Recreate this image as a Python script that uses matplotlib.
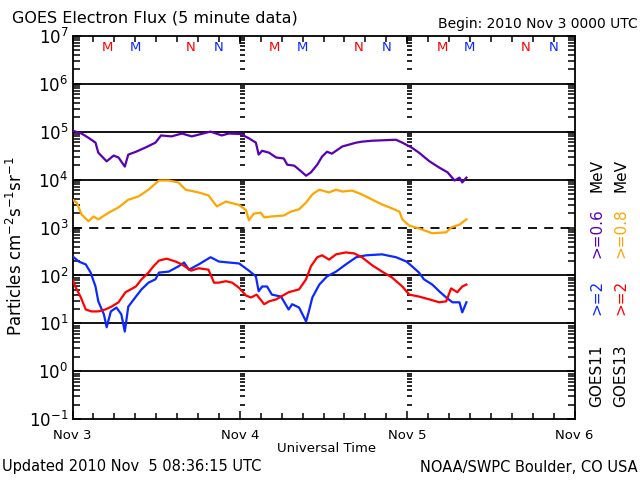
import matplotlib
matplotlib.use("Agg")
import matplotlib.pyplot as plt
import numpy as np

# ---- data (hours since 2010 Nov 3 00:00 UT, log10 flux) ----
purple_t = [0, 1.3, 2.3, 3.3, 3.7, 4.9, 5.9, 6.6, 7.5, 8.0, 9.1, 10.5, 11.9, 12.7, 14.2, 15.7, 17.1, 19.8,
            21.4, 22.4, 24.1, 25.3, 26.3, 26.7, 27.2, 28.2, 29.2, 30.3, 30.8, 31.8, 32.8, 33.5, 34.2, 35.1,
            35.8, 36.5, 37.2, 37.8, 38.7, 39.7, 40.7, 41.5, 43.0, 46.4, 47.3, 48.6, 49.7, 51.2, 52.6, 53.8,
            54.8, 55.5, 55.9, 56.5]
purple_log = [5.02, 4.96, 4.87, 4.77, 4.56, 4.38, 4.50, 4.46, 4.27, 4.52, 4.58, 4.67, 4.77, 4.92, 4.90, 4.96,
              4.90, 5.00, 4.92, 4.96, 4.95, 4.86, 4.77, 4.52, 4.60, 4.56, 4.46, 4.44, 4.31, 4.29, 4.17, 4.08,
              4.15, 4.31, 4.48, 4.58, 4.54, 4.60, 4.69, 4.73, 4.77, 4.79, 4.81, 4.83, 4.77, 4.67, 4.56, 4.38,
              4.25, 4.15, 3.98, 4.04, 3.94, 4.04]

orange_t = [0, 0.6, 1.3, 2.3, 3.0, 3.7, 5.2, 6.6, 8.0, 9.5, 10.9, 12.4, 13.8, 15.2, 16.2, 18.1, 19.5, 20.7,
            22.0, 23.9, 24.9, 25.3, 26.0, 27.0, 27.5, 28.5, 30.3, 31.3, 32.5, 33.5, 34.4, 35.4, 36.8, 37.8,
            38.7, 40.1, 41.5, 43.0, 44.4, 45.8, 46.9, 47.3, 48.3, 49.7, 51.6, 53.6, 54.3, 55.5, 56.5]
orange_log = [3.58, 3.52, 3.27, 3.13, 3.23, 3.17, 3.31, 3.42, 3.58, 3.65, 3.79, 3.98, 3.98, 3.94, 3.79, 3.73,
              3.67, 3.44, 3.54, 3.47, 3.36, 3.15, 3.29, 3.31, 3.21, 3.23, 3.25, 3.33, 3.38, 3.52, 3.69, 3.79,
              3.73, 3.79, 3.75, 3.77, 3.69, 3.58, 3.48, 3.40, 3.33, 3.17, 3.04, 2.98, 2.88, 2.90, 3.00, 3.06,
              3.17]

blue_t = [0, 0.9, 1.9, 2.6, 3.3, 3.7, 4.5, 4.9, 5.5, 6.3, 7.0, 7.5, 8.0, 9.1, 9.9, 10.9, 11.9, 12.4, 13.8,
          15.2, 16.0, 16.7, 18.1, 19.8, 21.0, 22.4, 23.9, 25.3, 26.3, 26.7, 27.2, 27.9, 28.6, 29.9, 31.0,
          31.5, 32.5, 33.5, 33.9, 34.4, 35.4, 36.5, 37.8, 39.2, 40.7, 42.1, 44.4, 46.4, 47.9, 48.7, 49.7,
          50.4, 51.6, 52.6, 53.6, 54.5, 55.5, 55.9, 56.5]
blue_log = [2.40, 2.29, 2.23, 2.06, 1.77, 1.46, 1.19, 0.92, 1.25, 1.33, 1.19, 0.83, 1.35, 1.56, 1.71, 1.85,
            1.92, 2.06, 2.08, 2.19, 2.27, 2.12, 2.23, 2.38, 2.29, 2.27, 2.25, 2.10, 1.98, 1.67, 1.77, 1.77,
            1.60, 1.56, 1.29, 1.40, 1.33, 1.04, 1.25, 1.54, 1.81, 1.98, 2.08, 2.23, 2.38, 2.42, 2.44, 2.38,
            2.29, 2.19, 2.06, 1.92, 1.81, 1.67, 1.54, 1.44, 1.44, 1.23, 1.44]

red_t = [0, 0.4, 1.2, 1.9, 2.7, 3.7, 4.7, 5.6, 6.6, 7.6, 9.1, 9.9, 10.9, 11.6, 12.4, 13.5, 14.8, 15.7, 17.0,
         18.1, 19.5, 20.3, 21.0, 22.0, 22.9, 23.9, 24.9, 25.6, 26.4, 27.5, 28.2, 29.2, 31.0, 32.5, 33.5,
         34.2, 35.1, 35.8, 36.8, 37.8, 39.2, 40.4, 41.5, 43.0, 44.4, 45.8, 47.3, 48.3, 49.7, 51.2, 52.6,
         53.6, 54.3, 55.2, 55.9, 56.5]
red_log = [1.92, 1.77, 1.54, 1.29, 1.25, 1.25, 1.29, 1.35, 1.44, 1.65, 1.77, 1.92, 2.06, 2.19, 2.31, 2.35,
           2.29, 2.23, 2.10, 2.15, 2.12, 1.85, 1.85, 1.88, 1.85, 1.74, 1.58, 1.54, 1.60, 1.40, 1.46, 1.50,
           1.65, 1.71, 1.92, 2.19, 2.38, 2.42, 2.33, 2.44, 2.48, 2.46, 2.38, 2.21, 2.08, 1.96, 1.77, 1.60,
           1.56, 1.50, 1.44, 1.46, 1.73, 1.65, 1.77, 1.81]

day_labels = ["Nov 3", "Nov 4", "Nov 5", "Nov 6"]
day_hours = [0, 24, 48, 72]
decade_exps = [-1, 0, 1, 2, 3, 4, 5, 6, 7]
m_red_hours = [5, 29, 53]
m_blue_hours = [9, 33, 57]
n_red_hours = [17, 41, 65]
n_blue_hours = [21, 45, 69]

PURPLE = "#5a00b4"
ORANGE = "#ffa500"
BLUE = "#0a28ff"
RED = "#ff0000"

fig = plt.figure(figsize=(6.4, 4.8), dpi=100)
ax = fig.add_axes([72.5 / 640, 1 - 419.3 / 480, 502 / 640, 383.6 / 480])
ax.set_yscale("log")
ax.set_xlim(0, 72)
ax.set_ylim(1e-1, 1e7)

# horizontal decade lines
for e in decade_exps[1:-1]:
    ls = (0, (5, 4)) if e == 3 else "-"
    ax.axhline(10.0 ** e, color="black", lw=1.3, ls=ls, zorder=1)

# day-boundary minor tick marks
minor_ys = [s * 10.0 ** n for n in range(-1, 7) for s in range(2, 10)]
for d in day_hours[1:3]:
    ax.hlines(minor_ys, d, d + 0.75, color="black", lw=1.2, zorder=2)
    ax.vlines(d, 10 ** 6.87, 1e7, color="black", lw=1.2)

ax.plot(purple_t, 10 ** np.array(purple_log), color=PURPLE, lw=1.6, zorder=3)
ax.plot(orange_t, 10 ** np.array(orange_log), color=ORANGE, lw=1.6, zorder=3)
ax.plot(blue_t, 10 ** np.array(blue_log), color=BLUE, lw=1.6, zorder=4)
ax.plot(red_t, 10 ** np.array(red_log), color=RED, lw=1.6, zorder=5)

# ticks
ax.set_yticks([10.0 ** e for e in decade_exps])
ax.set_yticklabels([r"$10^{%d}$" % e for e in decade_exps], fontsize=12)
ax.yaxis.set_minor_locator(matplotlib.ticker.LogLocator(base=10, subs=np.arange(2, 10), numticks=20))
ax.yaxis.set_minor_formatter(matplotlib.ticker.NullFormatter())
ax.set_xticks(day_hours)
ax.set_xticklabels(day_labels, fontsize=9.5)
ax.set_xticks(np.arange(0, 73, 3), minor=True)
ax.tick_params(axis="both", which="both", direction="in", top=True, right=True, width=1.1)
ax.tick_params(axis="y", which="major", length=6, pad=3)
ax.tick_params(axis="y", which="minor", length=5)
ax.tick_params(axis="x", which="major", length=6, pad=7)
ax.tick_params(axis="x", which="minor", length=4)
for sp in ax.spines.values():
    sp.set_linewidth(1.3)

# M / N markers
tr = ax.get_xaxis_transform()
for h in m_red_hours:
    ax.text(h, 0.968, "M", color=RED, fontsize=9.5, ha="center", va="center", transform=tr)
for h in m_blue_hours:
    ax.text(h, 0.968, "M", color=BLUE, fontsize=9.5, ha="center", va="center", transform=tr)
for h in n_red_hours:
    ax.text(h, 0.968, "N", color=RED, fontsize=9.5, ha="center", va="center", transform=tr)
for h in n_blue_hours:
    ax.text(h, 0.968, "N", color=BLUE, fontsize=9.5, ha="center", va="center", transform=tr)

# titles and annotations
fig.text(12 / 640, 1 - 18 / 480, "GOES Electron Flux (5 minute data)", fontsize=11.5, ha="left", va="center")
fig.text(638 / 640, 1 - 24 / 480, "Begin: 2010 Nov 3 0000 UTC", fontsize=10, ha="right", va="center")
fig.text(327 / 640, 1 - 449 / 480, "Universal Time", fontsize=9.5, ha="center", va="center")
fig.text(2 / 640, 1 - 467 / 480, "Updated 2010 Nov  5 08:36:15 UTC", fontsize=10.5, ha="left", va="center")
fig.text(638 / 640, 1 - 467 / 480, "NOAA/SWPC Boulder, CO USA", fontsize=10.5, ha="right", va="center")
fig.text(16 / 640, 1 - 246 / 480, r"Particles cm$^{-2}$s$^{-1}$sr$^{-1}$", fontsize=12,
         rotation=90, ha="center", va="center")

# right-side legend
def rlabel(xpx, ypx, s, c):
    fig.text(xpx / 640, 1 - ypx / 480, s, color=c, fontsize=11, rotation=90, ha="center", va="bottom")

rlabel(597, 407, "GOES11", "black")
rlabel(597, 315, ">=2", BLUE)
rlabel(597, 258, ">=0.6", PURPLE)
rlabel(597, 192, "MeV", "black")
rlabel(621, 407, "GOES13", "black")
rlabel(621, 315, ">=2", RED)
rlabel(621, 258, ">=0.8", ORANGE)
rlabel(621, 192, "MeV", "black")

fig.savefig("out.png", dpi=100)
